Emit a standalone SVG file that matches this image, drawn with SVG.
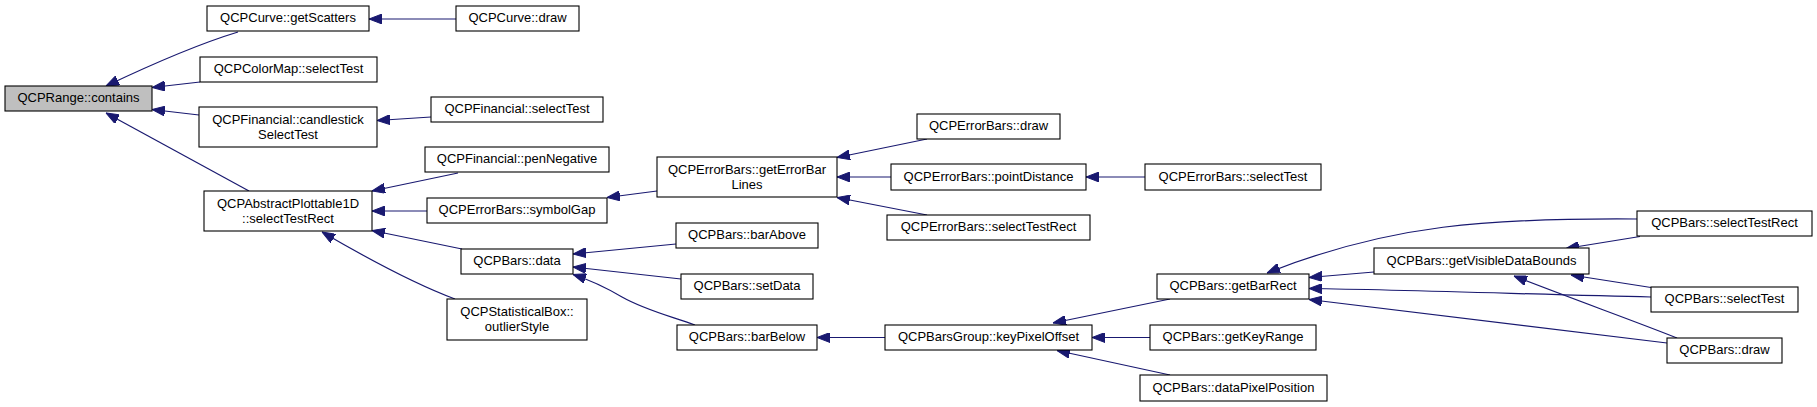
<svg xmlns="http://www.w3.org/2000/svg" width="1817" height="407" viewBox="0 0 1817 407">
<style>
.n rect{fill:#fff;stroke:#000;stroke-width:1.1}
.n.root rect{fill:#bfbfbf}
.n text{font-family:"Liberation Sans",Arial,sans-serif;font-size:13px;fill:#000;text-anchor:middle}
.e path{fill:none;stroke:#191970;stroke-width:1.2;marker-end:url(#ah)}
</style>
<defs>
<marker id="ah" viewBox="0 0 13 10" refX="13" refY="5" markerWidth="13" markerHeight="10" markerUnits="userSpaceOnUse" orient="auto">
<path d="M0,0 L13,5 L0,10 z" fill="#191970" stroke="#191970" stroke-width="1"/>
</marker>
</defs>
<rect width="1817" height="407" fill="#fff"/>
<g id="connectors" class="e">
<path d="M238,32 C205,42 165,58 106,86"/>
<path d="M200,82 L152,87.5"/>
<path d="M199,115 L152,109.5"/>
<path d="M249,191 L106,113"/>
<path d="M456,19 L369,19"/>
<path d="M431,117 L377,120.5"/>
<path d="M458,173 L372,191"/>
<path d="M427,211 L372,211"/>
<path d="M462,249 L372,230.5"/>
<path d="M455,299 C420,286 370,260 322,232"/>
<path d="M657,191 L607,197.5"/>
<path d="M676,244 L573,254"/>
<path d="M681,279 L573,267"/>
<path d="M695,325 C670,316 645,310 622,297 C605,287 590,280 573,274.5"/>
<path d="M885,337.5 L817,337.5"/>
<path d="M927,139 L837,157.5"/>
<path d="M891,177 L837,177"/>
<path d="M927,215 L837,197.5"/>
<path d="M1145,177 L1086,177"/>
<path d="M1170,299 L1053,323"/>
<path d="M1150,337.5 L1092,337.5"/>
<path d="M1170,375 L1057,350.5"/>
<path d="M1374,272 L1309,277.5"/>
<path d="M1637,219 C1490,218 1390,224 1267,273"/>
<path d="M1651,297 C1550,295 1420,290 1309,288.5"/>
<path d="M1667,343 L1309,299.5"/>
<path d="M1640,236.5 L1566,248.5"/>
<path d="M1651,287.5 L1571,275"/>
<path d="M1677,338 C1640,323 1570,298 1514,276"/>
</g>
<g id="n_contains" class="n root"><rect x="5" y="86" width="147" height="25"/><text x="78.5" y="102">QCPRange::contains</text></g>
<g id="n_getScatters" class="n"><rect x="207" y="6" width="162" height="25"/><text x="288" y="22">QCPCurve::getScatters</text></g>
<g id="n_colorMapSelectTest" class="n"><rect x="200" y="57" width="177" height="25"/><text x="288.5" y="73">QCPColorMap::selectTest</text></g>
<g id="n_candlestick" class="n"><rect x="199" y="107" width="178" height="40"/><text x="288" y="124">QCPFinancial::candlestick</text><text x="288" y="139">SelectTest</text></g>
<g id="n_abstractSelectTestRect" class="n"><rect x="204" y="191" width="168" height="40"/><text x="288" y="208">QCPAbstractPlottable1D</text><text x="288" y="223">::selectTestRect</text></g>
<g id="n_curveDraw" class="n"><rect x="456" y="6" width="123" height="25"/><text x="517.5" y="22">QCPCurve::draw</text></g>
<g id="n_finSelectTest" class="n"><rect x="431" y="97" width="172" height="25"/><text x="517" y="113">QCPFinancial::selectTest</text></g>
<g id="n_penNegative" class="n"><rect x="425" y="147" width="184" height="25"/><text x="517" y="163">QCPFinancial::penNegative</text></g>
<g id="n_symbolGap" class="n"><rect x="427" y="198" width="180" height="25"/><text x="517" y="214">QCPErrorBars::symbolGap</text></g>
<g id="n_barsData" class="n"><rect x="461" y="249" width="112" height="25"/><text x="517" y="265">QCPBars::data</text></g>
<g id="n_outlierStyle" class="n"><rect x="447" y="299" width="140" height="41"/><text x="517" y="316">QCPStatisticalBox::</text><text x="517" y="331">outlierStyle</text></g>
<g id="n_getErrorBarLines" class="n"><rect x="657" y="157" width="180" height="40"/><text x="747" y="174">QCPErrorBars::getErrorBar</text><text x="747" y="189">Lines</text></g>
<g id="n_barAbove" class="n"><rect x="676" y="223" width="142" height="25"/><text x="747" y="239">QCPBars::barAbove</text></g>
<g id="n_setData" class="n"><rect x="681" y="274" width="132" height="25"/><text x="747" y="290">QCPBars::setData</text></g>
<g id="n_barBelow" class="n"><rect x="677" y="325" width="140" height="25"/><text x="747" y="341">QCPBars::barBelow</text></g>
<g id="n_ebDraw" class="n"><rect x="917" y="114" width="143" height="25"/><text x="988.5" y="130">QCPErrorBars::draw</text></g>
<g id="n_pointDistance" class="n"><rect x="891" y="164" width="195" height="26"/><text x="988.5" y="181">QCPErrorBars::pointDistance</text></g>
<g id="n_ebSelectTestRect" class="n"><rect x="887" y="215" width="203" height="25"/><text x="988.5" y="231">QCPErrorBars::selectTestRect</text></g>
<g id="n_keyPixelOffset" class="n"><rect x="885" y="325" width="207" height="25"/><text x="988.5" y="341">QCPBarsGroup::keyPixelOffset</text></g>
<g id="n_ebSelectTest" class="n"><rect x="1145" y="164" width="176" height="26"/><text x="1233" y="181">QCPErrorBars::selectTest</text></g>
<g id="n_getBarRect" class="n"><rect x="1157" y="274" width="152" height="25"/><text x="1233" y="290">QCPBars::getBarRect</text></g>
<g id="n_getKeyRange" class="n"><rect x="1150" y="325" width="166" height="25"/><text x="1233" y="341">QCPBars::getKeyRange</text></g>
<g id="n_dataPixelPosition" class="n"><rect x="1140" y="375" width="187" height="26"/><text x="1233.5" y="392">QCPBars::dataPixelPosition</text></g>
<g id="n_getVisibleDataBounds" class="n"><rect x="1374" y="248" width="215" height="26"/><text x="1481.5" y="265">QCPBars::getVisibleDataBounds</text></g>
<g id="n_barsSelectTestRect" class="n"><rect x="1637" y="211" width="175" height="25"/><text x="1724.5" y="227">QCPBars::selectTestRect</text></g>
<g id="n_barsSelectTest" class="n"><rect x="1651" y="287" width="147" height="25"/><text x="1724.5" y="303">QCPBars::selectTest</text></g>
<g id="n_barsDraw" class="n"><rect x="1667" y="338" width="115" height="25"/><text x="1724.5" y="354">QCPBars::draw</text></g>
</svg>
